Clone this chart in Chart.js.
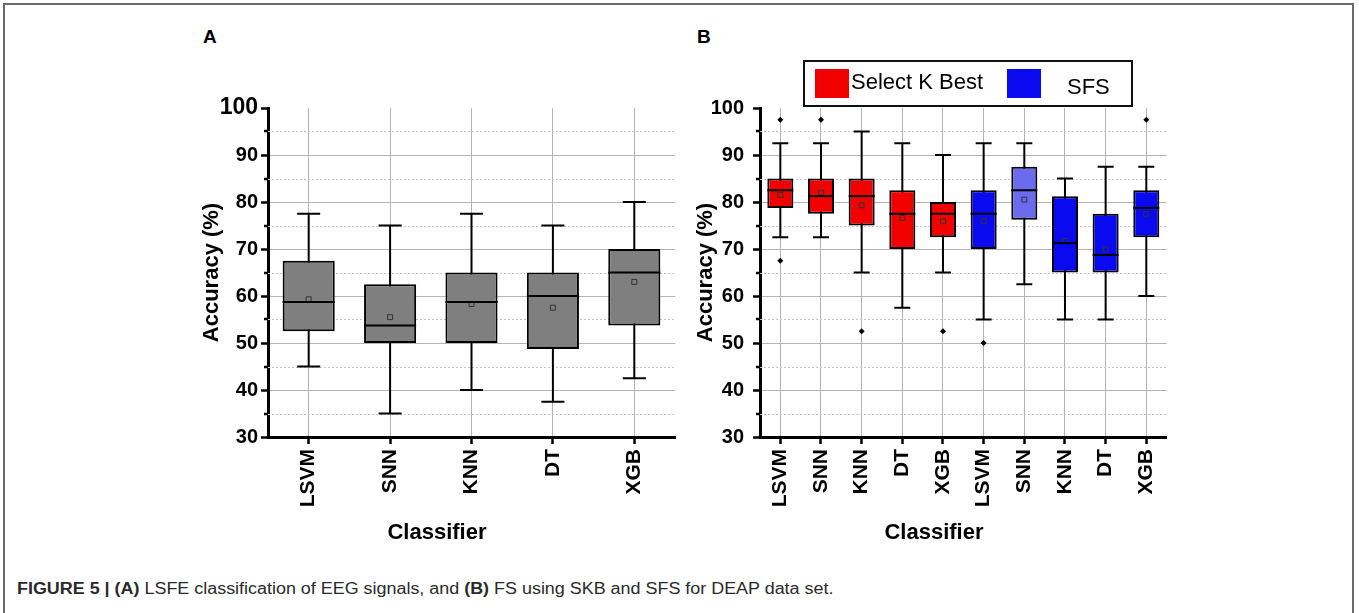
<!DOCTYPE html>
<html>
<head>
<meta charset="utf-8">
<script src="https://cdn.jsdelivr.net/npm/chart.js@4.4.1/dist/chart.umd.min.js"></script>
<style>
  body { margin: 0; background: #fff; width: 1359px; height: 613px; overflow: hidden; position: relative;
         font-family: "Liberation Sans", Arial, sans-serif; }
  #frame { position: absolute; left: 3px; top: 3px; width: 1347px; height: 700px; border: 2px solid #6a6a6a; }
  canvas { position: absolute; }
  #chartA { left: 180px; top: 84px; }
  #chartB { left: 680px; top: 84px; }
  .panel { position: absolute; font-weight: bold; font-size: 19px; color: #000; }
  .xtitle { position: absolute; font-weight: bold; font-size: 22px; color: #000; transform: translateX(-50%); }
  #legend { position: absolute; left: 803px; top: 60px; width: 330px; height: 47px; box-sizing: border-box;
            border: 2px solid #111; }
  #legend .sw { position: absolute; top: 7px; width: 34px; height: 29px; }
  #legend .lb { position: absolute; font-size: 22px; color: #000; }
  #caption { position: absolute; left: 17px; top: 580px; font-size: 16px; color: #2a2a2a; white-space: nowrap;
             transform: scaleX(1.12); transform-origin: 0 0; }
</style>
</head>
<body>
<div id="frame"></div>
<div class="panel" style="left:203px; top:26px;">A</div>
<div class="panel" style="left:697px; top:26px;">B</div>

<canvas id="chartA" width="505" height="442"></canvas>
<canvas id="chartB" width="497" height="442"></canvas>

<div class="xtitle" style="left:437px; top:519px;">Classifier</div>
<div class="xtitle" style="left:934px; top:519px;">Classifier</div>

<div id="legend">
  <div class="sw" style="left:10px; background:#f20000;"></div>
  <div class="lb" style="left:46px; top:7px;">Select K Best</div>
  <div class="sw" style="left:202px; background:#0a0af0;"></div>
  <div class="lb" style="left:262px; top:12px;">SFS</div>
</div>

<div id="caption"><b>FIGURE 5 | (A)</b> LSFE classification of EEG signals, and <b>(B)</b> FS using SKB and SFS for DEAP data set.</div>

<script>
// ---------- data ----------
const classifiers = ['LSVM', 'SNN', 'KNN', 'DT', 'XGB'];
const minorTicks = [35, 45, 55, 65, 75, 85, 95];

// panel A: LSFE
const lsfeMin  = [45, 35, 40, 37.5, 42.5];
const lsfeQ1   = [52.5, 50, 50, 48.75, 53.75];
const lsfeMed  = [58.75, 53.75, 58.75, 60, 65];
const lsfeQ3   = [67.5, 62.5, 65, 65, 70];
const lsfeMax  = [77.5, 75, 77.5, 75, 80];
const lsfeMean = [59.3, 55.5, 58.3, 57.5, 63];

// panel B: Select K Best
const skbMin  = [72.5, 72.5, 65, 57.5, 65];
const skbQ1   = [78.75, 77.5, 75, 70, 72.5];
const skbMed  = [82.5, 81.25, 81.25, 77.5, 77.5];
const skbQ3   = [85, 85, 85, 82.5, 80];
const skbMax  = [92.5, 92.5, 95, 92.5, 90];
const skbMean = [81.5, 82, 79.3, 76.6, 75.9];
const skbOutHigh = [97.5, 97.5, null, null, null];
const skbOutLow  = [67.5, null, 52.5, null, 52.5];

// panel B: SFS
const sfsMin  = [55, 62.5, 55, 55, 60];
const sfsQ1   = [70, 76.25, 65, 65, 72.5];
const sfsMed  = [77.5, 82.5, 71.25, 68.75, 78.75];
const sfsQ3   = [82.5, 87.5, 81.25, 77.5, 82.5];
const sfsMax  = [92.5, 92.5, 85, 87.5, 87.5];
const sfsMean = [75.9, 80.5, 71.7, 69.9, 77.5];
const sfsOutHigh = [null, null, null, null, 97.5];
const sfsOutLow  = [50, null, null, null, null];

// ---------- helpers ----------
Chart.defaults.font.family = '"Liberation Sans", Arial, sans-serif';
Chart.defaults.color = '#000';

const blank = Array(5).fill(null);
const pairs = (lo, hi) => lo.map((v, i) => [v, hi[i]]);

// whiskers + medians + dotted minor grid, drawn with the chart's own scales
const boxParts = {
  id: 'boxParts',
  beforeDatasetsDraw(chart, args, opts) {
    const {ctx, chartArea: a, scales: {y}} = chart;
    ctx.save();
    ctx.strokeStyle = '#c4c4c4';
    ctx.lineWidth = 1;
    ctx.setLineDash([2, 2]);
    minorTicks.forEach(v => {
      const py = Math.round(y.getPixelForValue(v)) + 0.5;
      ctx.beginPath(); ctx.moveTo(a.left, py); ctx.lineTo(a.right, py); ctx.stroke();
    });
    ctx.setLineDash([]);
    ctx.strokeStyle = '#000';
    ctx.lineWidth = 2.5;
    minorTicks.forEach(v => {
      const py = Math.round(y.getPixelForValue(v));
      ctx.beginPath(); ctx.moveTo(a.left - 4, py); ctx.lineTo(a.left, py); ctx.stroke();
    });
    ctx.lineWidth = 2;
    chart.data.datasets.forEach((ds, i) => {
      if (!ds.whisker) return;
      chart.getDatasetMeta(i).data.forEach((bar, j) => {
        if (ds.data[j] == null) return;
        const top = y.getPixelForValue(ds.whisker.max[j]);
        const bot = y.getPixelForValue(ds.whisker.min[j]);
        const h = opts.cap / 2;
        ctx.beginPath();
        ctx.moveTo(bar.x, top); ctx.lineTo(bar.x, bot);
        ctx.moveTo(bar.x - h, top); ctx.lineTo(bar.x + h, top);
        ctx.moveTo(bar.x - h, bot); ctx.lineTo(bar.x + h, bot);
        ctx.stroke();
      });
    });
    ctx.restore();
  },
  afterDatasetsDraw(chart) {
    const {ctx, scales: {y}} = chart;
    ctx.save();
    ctx.strokeStyle = '#000';
    ctx.lineWidth = 2;
    chart.data.datasets.forEach((ds, i) => {
      if (!ds.whisker) return;
      chart.getDatasetMeta(i).data.forEach((bar, j) => {
        if (ds.data[j] == null) return;
        const py = y.getPixelForValue(ds.whisker.med[j]);
        ctx.beginPath();
        ctx.moveTo(bar.x - bar.width / 2, py); ctx.lineTo(bar.x + bar.width / 2, py);
        ctx.stroke();
      });
    });
    ctx.restore();
  }
};

function yAxis(o) {
  return {
    min: 30, max: 100,
    ticks: { stepSize: 10, color: '#000', font: o.tickFont, padding: o.tickPad },
    grid: { color: c => (c.tick && c.tick.value === 100) ? 'rgba(0,0,0,0)' : '#b4b4b4',
            lineWidth: 1, tickColor: '#000', tickLength: 7, tickWidth: 2.5 },
    border: { color: '#000', width: 3 },
    title: { display: true, text: 'Accuracy (%)', color: '#000',
             font: { size: 22, weight: 'bold' }, padding: { top: o.titlePad, bottom: 0 } },
    afterFit: s => { s.width = o.width; }
  };
}

function xAxis() {
  return {
    offset: true,
    grid: { offset: false, color: '#b4b4b4', lineWidth: 1, tickColor: '#000', tickLength: 7, tickWidth: 2.5 },
    border: { color: '#000', width: 3 },
    ticks: { color: '#000', font: { size: 21, weight: 'bold' }, minRotation: 90, maxRotation: 90,
             padding: 5, autoSkip: false },
    afterFit: s => { s.height = 89; }
  };
}

const meanStyle = {
  type: 'line', showLine: false, pointStyle: 'rect', pointRadius: 3.5,
  pointBorderWidth: 1, pointBorderColor: '#333', pointBackgroundColor: 'rgba(0,0,0,0)'
};
const outStyle = {
  type: 'line', showLine: false, pointStyle: 'rectRot', pointRadius: 3,
  pointBorderWidth: 0, pointBackgroundColor: '#000'
};

const common = {
  responsive: false,
  animation: false,
  events: [],
  layout: { padding: { top: 24, right: 10, bottom: 0, left: 0 } },
};

// ---------- panel A ----------
new Chart(document.getElementById('chartA'), {
  type: 'bar',
  data: {
    labels: classifiers,
    datasets: [
      Object.assign({ data: lsfeMean }, meanStyle),
      {
        data: pairs(lsfeQ1, lsfeQ3),
        whisker: { min: lsfeMin, max: lsfeMax, med: lsfeMed },
        backgroundColor: '#7f7f7f', borderColor: '#000', borderWidth: 2, borderSkipped: false,
        barPercentage: 0.64, categoryPercentage: 1
      }
    ]
  },
  options: Object.assign({}, common, {
    scales: {
      x: xAxis(),
      y: yAxis({ width: 88, tickPad: 3, titlePad: 19,
                 tickFont: c => ({ size: c.tick && c.tick.value === 100 ? 23 : 20, weight: 'bold' }) })
    },
    plugins: { legend: { display: false }, tooltip: { enabled: false }, boxParts: { cap: 23 } }
  }),
  plugins: [boxParts]
});

// ---------- panel B ----------
new Chart(document.getElementById('chartB'), {
  type: 'bar',
  data: {
    labels: classifiers.concat(classifiers),
    datasets: [
      Object.assign({ data: skbMean.concat(sfsMean) }, meanStyle),
      Object.assign({ data: skbOutHigh.concat(sfsOutHigh) }, outStyle),
      Object.assign({ data: skbOutLow.concat(sfsOutLow) }, outStyle),
      {
        label: 'Select K Best',
        data: pairs(skbQ1, skbQ3).concat(blank),
        whisker: { min: skbMin, max: skbMax, med: skbMed },
        backgroundColor: '#f20000', borderColor: '#000', borderWidth: 2, borderSkipped: false,
        barPercentage: 0.64, categoryPercentage: 1, grouped: false
      },
      {
        label: 'SFS',
        data: blank.concat(pairs(sfsQ1, sfsQ3)),
        whisker: { min: blank.concat(sfsMin), max: blank.concat(sfsMax), med: blank.concat(sfsMed) },
        backgroundColor: ['', '', '', '', '', '#0a0af0', '#6b6bef', '#0a0af0', '#0a0af0', '#0a0af0'],
        borderColor: '#000', borderWidth: 2, borderSkipped: false,
        barPercentage: 0.64, categoryPercentage: 1, grouped: false
      }
    ]
  },
  options: Object.assign({}, common, {
    scales: {
      x: xAxis(),
      y: yAxis({ width: 80, tickPad: 9, titlePad: 13, tickFont: { size: 20, weight: 'bold' } })
    },
    plugins: { legend: { display: false }, tooltip: { enabled: false }, boxParts: { cap: 16 } }
  }),
  plugins: [boxParts]
});
</script>
</body>
</html>
